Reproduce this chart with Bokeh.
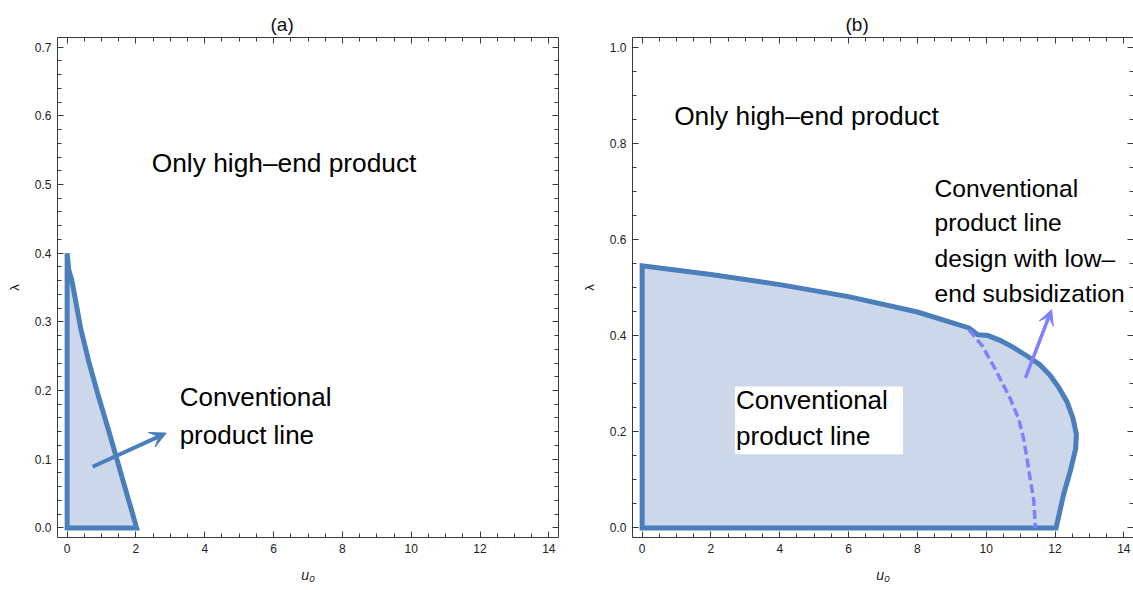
from bokeh.plotting import figure
from bokeh.layouts import row
from bokeh.models import (Range1d, SingleIntervalTicker, LinearAxis, NumeralTickFormatter,
                          Arrow, VeeHead, Label, BoxAnnotation)
from bokeh.embed import file_html
from bokeh.resources import INLINE

BLUE = "#4a7fbb"
FILL = "#ccd7ea"
PURPLE = "#8080ff"
FONT = "Liberation Sans"
AXIS_COLOR = "#3a3a3a"

# ---------------- data: panel (a) ----------------
a_curve_u0 = [0.0, 0.05, 0.13, 0.22, 0.40, 0.64, 0.92, 1.20, 1.48, 1.76, 2.02]
a_curve_lam = [0.40, 0.375, 0.362, 0.338, 0.289, 0.24, 0.19, 0.143, 0.094, 0.045, 0.0]
a_arrow_u0 = [0.74, 2.88]
a_arrow_lam = [0.089, 0.138]

# ---------------- data: panel (b) ----------------
b_top_u0 = [0.0, 2.0, 4.0, 6.0, 8.0, 9.5]
b_top_lam = [0.545, 0.527, 0.506, 0.481, 0.449, 0.416]
b_outer_u0 = [9.75, 10.05, 10.4, 10.75, 11.2, 11.55, 11.85, 12.1, 12.35, 12.52, 12.62, 12.6, 12.45, 12.25, 12.03]
b_outer_lam = [0.402, 0.40, 0.39, 0.377, 0.357, 0.34, 0.318, 0.293, 0.262, 0.228, 0.195, 0.165, 0.12, 0.07, 0.0]
b_dash_u0 = [9.5, 9.89, 10.27, 10.71, 10.95, 11.09, 11.19, 11.28, 11.38, 11.43]
b_dash_lam = [0.412, 0.378, 0.329, 0.267, 0.225, 0.184, 0.142, 0.100, 0.059, 0.0]
b_arrow_u0 = [11.14, 11.9]
b_arrow_lam = [0.312, 0.454]

titles = ["(a)", "(b)"]
x_label = "u\u2080"
y_label = "\u03bb"
top_text = "Only high\u2013end product"
conv_lines = ["Conventional", "product line"]
sub_lines = ["Conventional", "product line", "design with low\u2013", "end subsidization"]


def style_axis(ax, labels=True, hidden_standoff=0):
    ax.axis_line_color = AXIS_COLOR
    ax.major_tick_line_color = AXIS_COLOR
    ax.minor_tick_line_color = AXIS_COLOR
    ax.major_tick_in = 6
    ax.major_tick_out = 0
    ax.minor_tick_in = 4
    ax.minor_tick_out = 0
    ax.major_label_text_font = FONT
    ax.major_label_text_color = "#222222"
    if labels:
        ax.major_label_text_font_size = "12px"
        ax.major_label_standoff = 6
    else:
        ax.major_label_text_font_size = "0px"
        ax.major_label_standoff = hidden_standoff


def make_fig(title, ymax, y_interval, y_minor, width, border_right, title_offset):
    pad = 0.02 * ymax
    p = figure(width=width, height=585,
               x_range=Range1d(-0.28, 14.28), y_range=Range1d(-pad, ymax + pad),
               output_backend="svg", toolbar_location=None,
               min_border_left=57, min_border_right=border_right,
               min_border_top=37, min_border_bottom=47, title=title)
    p.title.align = "left"
    p.title.vertical_align = "top"
    p.title.offset = title_offset
    p.title.text_font = FONT
    p.title.text_font_size = "19px"
    p.title.text_font_style = "normal"
    p.title.text_color = "#111111"
    p.title.standoff = 1
    p.grid.visible = False
    p.outline_line_color = None
    p.background_fill_color = "white"
    p.border_fill_color = "white"

    p.xaxis.ticker = SingleIntervalTicker(interval=2, num_minor_ticks=4)
    p.yaxis.ticker = SingleIntervalTicker(interval=y_interval, num_minor_ticks=y_minor)
    p.yaxis.formatter = NumeralTickFormatter(format="0.0")
    style_axis(p.xaxis[0])
    style_axis(p.yaxis[0])
    p.xaxis.axis_label = x_label
    p.xaxis.axis_label_text_font = FONT
    p.xaxis.axis_label_text_font_size = "14px"
    p.xaxis.axis_label_text_font_style = "italic"
    p.xaxis.axis_label_text_color = "#222222"
    p.xaxis.axis_label_standoff = 11
    p.yaxis.axis_label = y_label
    p.yaxis.axis_label_text_font = FONT
    p.yaxis.axis_label_text_font_size = "13px"
    p.yaxis.axis_label_text_font_style = "normal"
    p.yaxis.axis_label_text_color = "#222222"
    p.yaxis.axis_label_standoff = 10

    top = LinearAxis(ticker=SingleIntervalTicker(interval=2, num_minor_ticks=4))
    right = LinearAxis(ticker=SingleIntervalTicker(interval=y_interval, num_minor_ticks=y_minor))
    style_axis(top, labels=False, hidden_standoff=9)
    style_axis(right, labels=False)
    p.add_layout(top, "above")
    p.add_layout(right, "right")
    return p


def add_text(p, x, y, txt, size="26px"):
    p.add_layout(Label(x=x, y=y, text=txt, text_font=FONT, text_font_size=size,
                       text_color="black", text_align="left", text_baseline="alphabetic"))


# ---------------- panel (a) ----------------
pa = make_fig(titles[0], 0.7, 0.1, 5, 575, 17, 213)
pa.patch([0.0] + a_curve_u0, [0.0] + a_curve_lam, fill_color=FILL, fill_alpha=1.0,
         line_color=BLUE, line_width=5, line_join="miter")
pa.add_layout(Arrow(end=VeeHead(size=16, fill_color=BLUE, line_color=BLUE, line_width=1),
                    x_start=a_arrow_u0[0], y_start=a_arrow_lam[0],
                    x_end=a_arrow_u0[1], y_end=a_arrow_lam[1],
                    line_color=BLUE, line_width=4))
add_text(pa, 2.46, 0.531, top_text, "26.3px")
add_text(pa, 3.27, 0.190, conv_lines[0])
add_text(pa, 3.27, 0.135, conv_lines[1])

# ---------------- panel (b) ----------------
pb = make_fig(titles[1], 1.0, 0.2, 4, 558, 0, 213)
pb.patch([0.0] + b_top_u0 + b_outer_u0, [0.0] + b_top_lam + b_outer_lam,
         fill_color=FILL, fill_alpha=1.0, line_color=BLUE, line_width=5, line_join="miter")
pb.line(b_dash_u0, b_dash_lam, line_color=PURPLE, line_width=3.5, line_dash="9 4")
pb.add_layout(Arrow(end=VeeHead(size=15, fill_color=PURPLE, line_color=PURPLE, line_width=1),
                    x_start=b_arrow_u0[0], y_start=b_arrow_lam[0],
                    x_end=b_arrow_u0[1], y_end=b_arrow_lam[1],
                    line_color=PURPLE, line_width=3.5))
pb.add_layout(BoxAnnotation(left=2.70, right=7.58, bottom=0.153, top=0.294,
                            fill_color="white", fill_alpha=1.0, line_color=None))
add_text(pb, 0.93, 0.856, top_text, "26.3px")
add_text(pb, 2.73, 0.267, conv_lines[0])
add_text(pb, 2.73, 0.191, conv_lines[1])
for i, yy in enumerate([0.706, 0.635, 0.561, 0.488]):
    add_text(pb, 8.5, yy, sub_lines[i], "24.6px")

layout = row(pa, pb)
open("out.html", "w").write(file_html(layout, INLINE))
